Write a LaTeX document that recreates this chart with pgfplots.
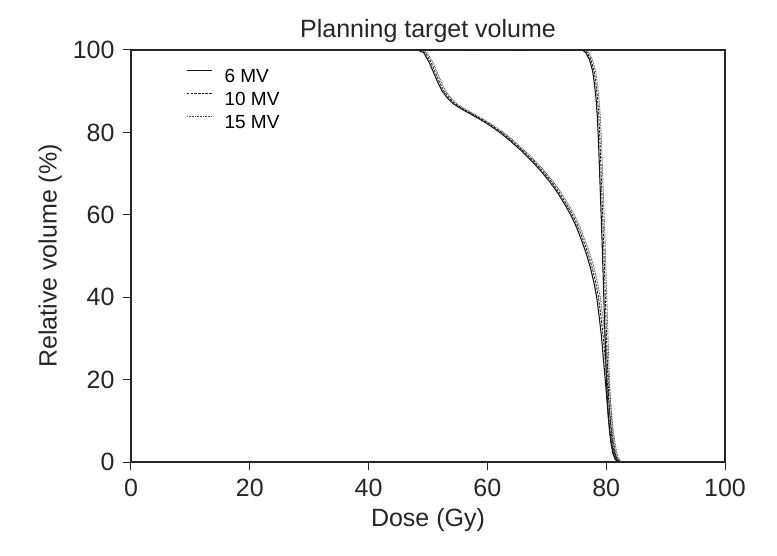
\documentclass[border=0pt]{standalone}
\usepackage{pgfplots}
\pgfplotsset{compat=1.18}
\usepackage{fontspec}
\setmainfont{Liberation Sans}

% Shallow curve (group A) and steep curve (group B), 6 MV
\pgfplotstableread{
x y
0 100
48.3 100
49.3 99.3
50.2 97
50.8 95
51.6 92.3
52.4 90
53.3 88.3
54.2 87
55.5 85.8
57.0 84.6
58.6 83.3
60.2 81.9
62.0 80.1
63.8 78.0
65.6 75.7
67.3 73.3
68.9 70.8
70.4 68.2
71.8 65.4
73.0 62.6
74.1 59.8
75.0 57.0
75.8 54.0
76.6 50.8
77.3 47.4
77.9 43.8
78.4 40.0
78.8 35.5
79.2 30.5
79.5 25.5
79.8 20.5
80.1 15.5
80.35 11
80.6 7.5
80.9 4.5
81.2 2.2
81.5 0.8
82.0 0
}\doseA
\pgfplotstableread{
x y
0 100
76.0 100
76.6 99.3
77.2 97.6
77.7 95
78.0 92
78.3 88
78.5 84
78.7 78
78.85 72
79.0 66
79.15 60
79.3 54
79.45 47
79.6 40
79.75 33
79.9 26
80.05 20
80.2 15
80.4 10.5
80.6 7
80.85 4.2
81.15 2
81.5 0.7
82.0 0
}\doseB

\begin{document}
\begin{tikzpicture}[x=1pt,y=1pt]
\useasboundingbox (-131,-93) rectangle (646,462);
\begin{axis}[
  at={(0,0)}, anchor=south west,
  width=594pt, height=412pt, scale only axis,
  xmin=0, xmax=100, ymin=0, ymax=100,
  xtick={0,20,...,100}, ytick={0,20,...,100},
  tick align=outside, major tick length=8pt,
  xtick pos=bottom, ytick pos=left,
  axis line style={line width=1.2pt, color=black!85},
  every tick/.style={line width=1pt, color=black!85},
  ticklabel style={font=\fontsize{25}{25}\selectfont, color=black!85},
  xticklabel style={yshift=-6pt},
  yticklabel style={xshift=-5pt},
  /pgf/number format/assume math mode=true,
  title={Planning target volume},
  title style={font=\fontsize{25}{25}\selectfont, color=black!85, at={(axis description cs:0.5,1)}, yshift=13pt, anchor=center},
  xlabel={Dose (Gy)},
  xlabel style={font=\fontsize{25}{25}\selectfont, color=black!85, at={(axis description cs:0.5,-0.1408)}, anchor=center},
  ylabel={Relative volume (\%)},
  ylabel style={font=\fontsize{25}{25}\selectfont, color=black!85, at={(axis description cs:-0.136,0.5)}, anchor=center},
  legend cell align=left,
  legend image code/.code={\draw[#1] (0pt,5pt) -- (25pt,5pt);},
  legend style={at={(rel axis cs:0.093,0.955)}, anchor=north west, draw=none, fill=none,
    font=\fontsize{19}{19}\selectfont, inner sep=0pt, row sep=9.5pt, column sep=12pt,
    nodes={inner sep=0pt, text height=13.5pt, text depth=0pt}},
]
\addplot[black!90, line width=1.1pt] table[x=x,y=y] {\doseA};
\addlegendentry{6 MV}
\addplot[black!90, line width=0.9pt, dash pattern=on 2.5pt off 1.2pt, x filter/.expression={x>1 ? x+0.3 : x}] table[x=x,y=y] {\doseA};
\addlegendentry{10 MV}
\addplot[black!70, line width=0.9pt, dash pattern=on 0.8pt off 0.8pt, x filter/.expression={x>1 ? x+0.6 : x}] table[x=x,y=y] {\doseA};
\addlegendentry{15 MV}
\addplot[black!90, line width=1.1pt, forget plot] table[x=x,y=y] {\doseB};
\addplot[black!90, line width=0.9pt, dash pattern=on 2.5pt off 1.2pt, forget plot, x filter/.expression={x>1 ? x+0.25 : x}] table[x=x,y=y] {\doseB};
\addplot[black!70, line width=0.9pt, dash pattern=on 0.8pt off 0.8pt, forget plot, x filter/.expression={x>1 ? x+0.5 : x}] table[x=x,y=y] {\doseB};
\end{axis}
\end{tikzpicture}
\end{document}
